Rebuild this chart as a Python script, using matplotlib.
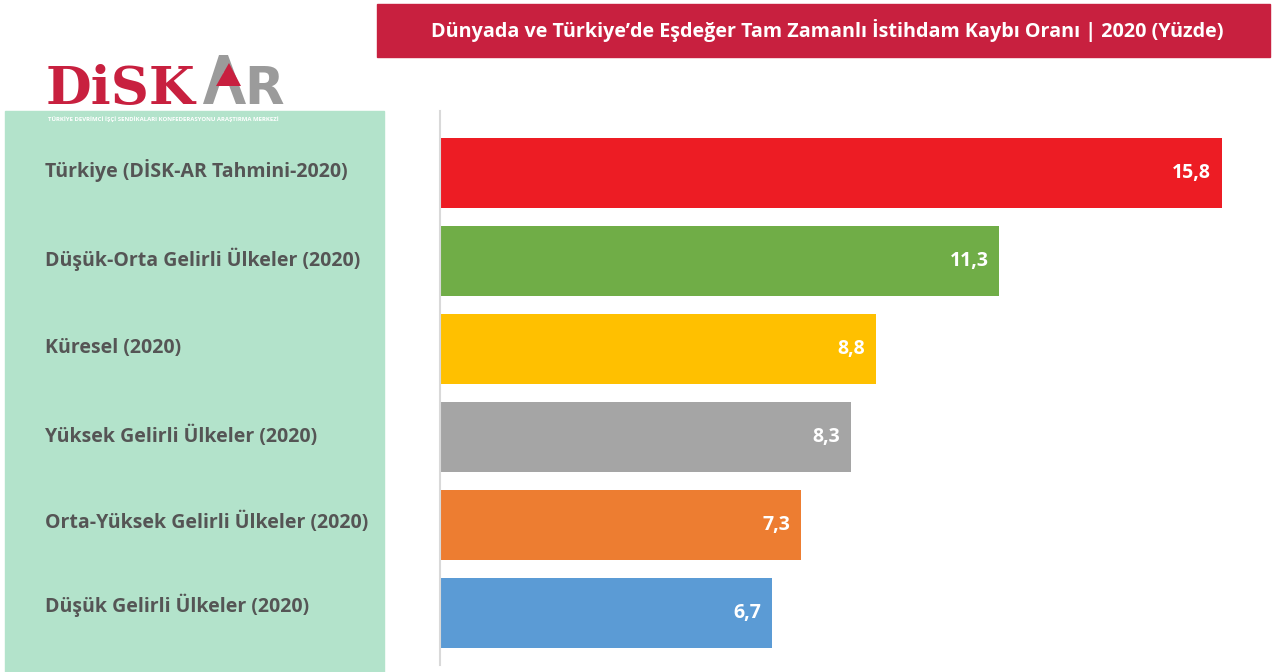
import matplotlib.pyplot as plt
from matplotlib.patches import Rectangle, Polygon
from matplotlib.transforms import blended_transform_factory, offset_copy

# data
categories = [
    "Türkiye (DİSK-AR Tahmini-2020)",
    "Düşük-Orta Gelirli Ülkeler (2020)",
    "Küresel (2020)",
    "Yüksek Gelirli Ülkeler (2020)",
    "Orta-Yüksek Gelirli Ülkeler (2020)",
    "Düşük Gelirli Ülkeler (2020)",
]
values = [15.8, 11.3, 8.8, 8.3, 7.3, 6.7]
colors = ["#ED1C24", "#70AD47", "#FFC000", "#A5A5A5", "#ED7D31", "#5B9BD5"]
title = "Dünyada ve Türkiye’de Eşdeğer Tam Zamanlı İstihdam Kaybı Oranı | 2020 (Yüzde)"

W, H = 1276, 672
fig = plt.figure(figsize=(W / 100, H / 100), dpi=100)
plt.rcParams['font.family'] = ['Open Sans', 'DejaVu Sans']

def fx(px):
    return px / W

def fy(py):
    return 1 - py / H

def poly(pts, color, z=2):
    fig.patches.append(Polygon([(fx(x), fy(y)) for x, y in pts], closed=True,
                               transform=fig.transFigure, color=color, zorder=z, lw=0))

# green panel behind labels
fig.patches.append(Rectangle((fx(5), 0), fx(384 - 5), fy(111), transform=fig.transFigure,
                             color="#B3E3CB", zorder=-1))

# title box
fig.patches.append(Rectangle((fx(377), fy(57)), fx(1270 - 377), (57 - 4) / H,
                             transform=fig.transFigure, color="#C8203F", zorder=-1))
fig.text(fx(827), fy(30), title, color="white", fontsize=14.2, fontweight="bold",
         ha="center", va="center")

# logo
fig.text(fx(46), fy(104), "DiSK", color="#C8203F", fontsize=38, fontweight="bold",
         family="DejaVu Serif", ha="left", va="baseline")
poly([(203, 104), (219, 55), (228, 55), (246, 104)], "#9B9B9B")
poly([(213, 104), (224, 72), (236, 104)], "white", 3)
poly([(216, 86), (241, 86), (229, 63)], "#C8203F", 4)
fig.text(fx(244), fy(104), "R", color="#9B9B9B", fontsize=37, fontweight="bold",
         family="DejaVu Sans", ha="left", va="baseline")
fig.text(fx(48), fy(119), "TÜRKİYE DEVRİMCİ İŞÇİ SENDİKALARI KONFEDERASYONU ARAŞTIRMA MERKEZİ",
         color="white", fontsize=4.3, fontweight="bold", ha="left", va="center")

# chart axes
ax_left, ax_right, ax_top, ax_bot = 440, 1270, 111, 665
ax = fig.add_axes([fx(ax_left), fy(ax_bot), fx(ax_right - ax_left), (ax_bot - ax_top) / H])
ax.patch.set_alpha(0)
ypos = list(range(len(categories)))
ax.barh(ypos, values, height=70 / 88, color=colors, zorder=2)
ax.set_xlim(0, (ax_right - ax_left) / 49.5)
ax.set_ylim(len(categories) - 1 + 52 / 88, -62 / 88)

for y, v in zip(ypos, values):
    ax.text(v - 0.22, y, f"{v:.1f}".replace(".", ","), color="white", fontsize=14,
            fontweight="bold", ha="right", va="center", zorder=3)

for s in ["top", "right", "bottom"]:
    ax.spines[s].set_visible(False)
ax.spines["left"].set_color("#D9D9D9")
ax.spines["left"].set_linewidth(1.5)
ax.set_xticks([])
ax.set_yticks([])

# category labels in green panel (slightly lifted, as in the original slide)
lab_tr = blended_transform_factory(fig.transFigure, ax.transData)
lift = [2, 2, 1, 1, 3, 8]
for y, c, d in zip(ypos, categories, lift):
    tr = offset_copy(lab_tr, fig=fig, y=d * 0.72, units="points")
    fig.text(fx(45), y, c, transform=tr, fontsize=14, fontweight="bold",
             color="#555555", ha="left", va="center")

fig.savefig("out.png", dpi=100)
